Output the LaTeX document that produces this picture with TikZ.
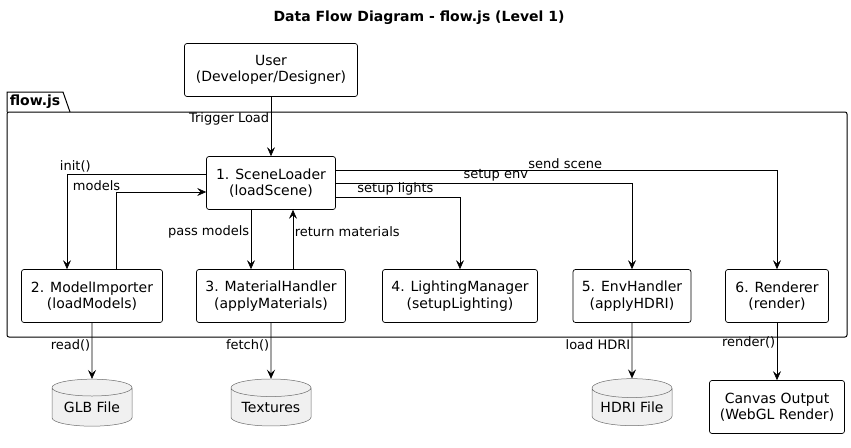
\documentclass[tikz,border=0pt]{standalone}
\usepackage{fontspec}
\setmainfont{DejaVu Sans}
\usetikzlibrary{positioning,arrows.meta,shapes.geometric}

\begin{document}
\begin{tikzpicture}[x=1pt,y=-1pt,
  box/.style={draw, rounded corners=2.5pt, align=center, font=\fontsize{14}{16.5}\selectfont, minimum height=53pt, line width=0.7pt, inner sep=0pt},
  store/.style={cylinder, shape border rotate=90, draw=gray!85!black, fill=gray!12, aspect=0.3, minimum width=80pt, minimum height=47pt, font=\fontsize{14}{16}\selectfont, line width=0.5pt, inner sep=0pt},
  flow/.style={-{Stealth[length=9pt,width=8pt,inset=3.5pt]}, line width=0.6pt},
  lbl/.style={font=\fontsize{13}{15}\selectfont, inner sep=1.5pt}]
  \useasboundingbox (0,0) rectangle (851,447);

  % title
  \node[font=\fontsize{14}{16}\bfseries] (title) at (419,18) {Data Flow Diagram - flow.js (Level 1)};

  % package flow.js
  \draw[line width=1pt, rounded corners=2pt] (7,112) rectangle (847,337);
  \draw[line width=1pt] (7,112) -- (7,92) -- (63,92) -- (70,112);
  \node[font=\fontsize{14}{16}\bfseries] (pkg) at (35,102) {flow.js};

  % processes
  \node[box, minimum width=173pt] (user) at (271,70) {User\\(Developer/Designer)};
  \node[box, minimum width=129pt] (loader) at (271,183) {1. SceneLoader\\(loadScene)};
  \node[box, minimum width=141pt] (importer) at (92,296) {2. ModelImporter\\(loadModels)};
  \node[box, minimum width=149pt] (material) at (271,296) {3. MaterialHandler\\(applyMaterials)};
  \node[box, minimum width=155pt] (lighting) at (460,296) {4. LightingManager\\(setupLighting)};
  \node[box, minimum width=118pt] (env) at (632,296) {5. EnvHandler\\(applyHDRI)};
  \node[box, minimum width=103pt] (renderer) at (777,296) {6. Renderer\\(render)};

  % data stores and output
  \node[store] (glb) at (92,407) {GLB File};
  \node[store] (tex) at (271,407) {Textures};
  \node[store] (hdri) at (632,407) {HDRI File};
  \node[box, minimum width=135pt] (canvas) at (777,407) {Canvas Output\\(WebGL Render)};

  % flows
  \draw[flow] (user) -- node[lbl, left, pos=0.37] {Trigger Load} (loader);
  \draw[flow] ([yshift=9pt]loader.west) -| node[lbl, above, pos=0.47] {init()} ([xshift=-25pt]importer.north);
  \draw[flow] ([xshift=24pt]importer.north) |- node[lbl, anchor=south east, pos=0.5, xshift=6pt] {models} ([yshift=-9pt]loader.west);
  \draw[flow] ([xshift=-20pt]loader.south) -- node[lbl, left, pos=0.38] {pass models} ([xshift=-20pt]material.north);
  \draw[flow] ([xshift=22pt]material.north) -- node[lbl, right, pos=0.63] {return materials} ([xshift=22pt]loader.south);
  \draw[flow] ([yshift=-14pt]loader.east) -| node[lbl, above, pos=0.24] {setup lights} (lighting.north);
  \draw[flow] (loader.east) -| node[lbl, above, pos=0.27] {setup env} (env.north);
  \draw[flow] ([yshift=13pt]loader.east) -| node[lbl, above, pos=0.26] {send scene} (renderer.north);
  \draw[flow] (importer) -- node[lbl, left, pos=0.4] {read()} (glb);
  \draw[flow] (material) -- node[lbl, left, pos=0.4] {fetch()} (tex);
  \draw[flow] (env) -- node[lbl, left, pos=0.4] {load HDRI} (hdri);
  \draw[flow] (renderer) -- node[lbl, left, pos=0.35] {render()} (canvas);
\end{tikzpicture}
\end{document}
